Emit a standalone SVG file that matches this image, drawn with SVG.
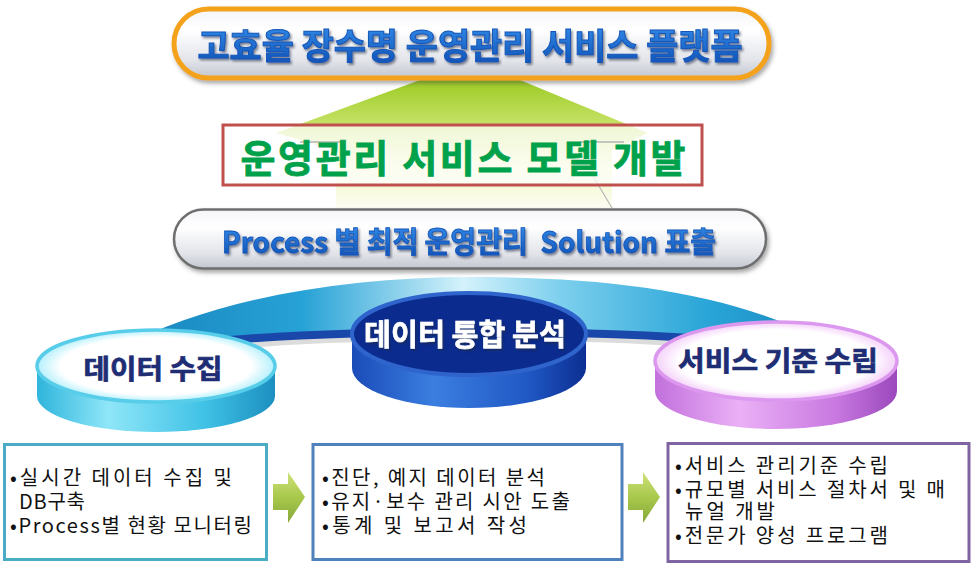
<svg xmlns="http://www.w3.org/2000/svg" width="973" height="568" viewBox="0 0 973 568">
<defs>
<linearGradient id="pillFill" x1="0" y1="0" x2="0" y2="1">
<stop offset="0" stop-color="#f4f5f8"/><stop offset="0.3" stop-color="#ffffff"/><stop offset="0.75" stop-color="#e2e4ea"/><stop offset="1" stop-color="#c3c6cf"/>
</linearGradient>
<linearGradient id="blueText" x1="0" y1="0" x2="0" y2="1">
<stop offset="0" stop-color="#3a94f0"/><stop offset="1" stop-color="#0b4cb2"/>
</linearGradient>
<linearGradient id="cone" x1="0" y1="80" x2="0" y2="208" gradientUnits="userSpaceOnUse">
<stop offset="0" stop-color="#9ccb24"/><stop offset="0.35" stop-color="#c6e267"/><stop offset="0.65" stop-color="#eef6c0"/><stop offset="1" stop-color="#fdfdf2"/>
</linearGradient>
<linearGradient id="band" x1="120" y1="0" x2="850" y2="0" gradientUnits="userSpaceOnUse">
<stop offset="0" stop-color="#1683bd"/><stop offset="0.25" stop-color="#27a2d6"/><stop offset="0.47" stop-color="#d4f2fb"/><stop offset="0.6" stop-color="#7fd0ee"/><stop offset="0.8" stop-color="#2aa6d8"/><stop offset="1" stop-color="#1580bb"/>
</linearGradient>
<linearGradient id="cyanSide" x1="0" y1="0" x2="1" y2="0">
<stop offset="0" stop-color="#2fb5dc"/><stop offset="0.3" stop-color="#8fe6f8"/><stop offset="0.7" stop-color="#40c2e6"/><stop offset="1" stop-color="#1c8fc0"/>
</linearGradient>
<radialGradient id="cyanFace" cx="0.5" cy="0.5" r="0.5">
<stop offset="0" stop-color="#ffffff"/><stop offset="0.8" stop-color="#ffffff"/><stop offset="1" stop-color="#b4f0fc"/>
</radialGradient>
<linearGradient id="navySide" x1="0" y1="0" x2="1" y2="0">
<stop offset="0" stop-color="#1a4cb8"/><stop offset="0.35" stop-color="#3b7ee0"/><stop offset="0.75" stop-color="#2058c4"/><stop offset="1" stop-color="#0c2f92"/>
</linearGradient>
<linearGradient id="violetSide" x1="0" y1="0" x2="1" y2="0">
<stop offset="0" stop-color="#c270dc"/><stop offset="0.35" stop-color="#eab0f6"/><stop offset="0.75" stop-color="#c878e0"/><stop offset="1" stop-color="#9a48bc"/>
</linearGradient>
<radialGradient id="violetFace" cx="0.5" cy="0.5" r="0.5">
<stop offset="0" stop-color="#ffffff"/><stop offset="0.8" stop-color="#ffffff"/><stop offset="1" stop-color="#f4d0fa"/>
</radialGradient>
<linearGradient id="arrowFill" x1="0" y1="0" x2="0" y2="1">
<stop offset="0" stop-color="#cfe27a"/><stop offset="0.5" stop-color="#a8c84c"/><stop offset="1" stop-color="#86a83a"/>
</linearGradient>
<filter id="shadow" x="-5%" y="-10%" width="110%" height="130%">
<feDropShadow dx="1.5" dy="2" stdDeviation="1.2" flood-color="#202840" flood-opacity="0.55"/>
</filter>
<filter id="soft" x="-5%" y="-20%" width="110%" height="150%">
<feDropShadow dx="2" dy="3" stdDeviation="2" flood-color="#404040" flood-opacity="0.45"/>
</filter>
</defs>
<style>
.title{font-family:"Noto Sans CJK KR","Noto Sans",sans-serif;font-weight:bold;text-anchor:middle}
.body{font-family:"Noto Sans CJK KR","Noto Sans",sans-serif;font-size:20px;fill:#111111}
.box{fill:#ffffff;stroke-width:3}
</style>
<rect width="973" height="568" fill="#ffffff"/>

<g id="cone">
<polygon points="420,80 520,80 648,133 612,150 612,208 336,208 336,150 276,133" fill="url(#cone)"/>
<line x1="593" y1="176" x2="612" y2="208" stroke="#b8b8b8" stroke-width="1.2"/>
</g>

<g id="platform" filter="url(#soft)">
<rect x="174" y="9" width="595" height="69" rx="34.5" fill="url(#pillFill)" stroke="#f4a21c" stroke-width="5"/>
<text class="title" x="470" y="59" font-size="35" fill="url(#blueText)" stroke="#1456b8" stroke-width="1" textLength="545" lengthAdjust="spacingAndGlyphs" filter="url(#shadow)">고효율 장수명 운영관리 서비스 플랫폼</text>
</g>

<g id="model">
<rect x="223" y="125" width="479" height="60" fill="#ffffff" fill-opacity="0.72" stroke="#c0504d" stroke-width="3"/>
<line x1="300" y1="142" x2="340" y2="142" stroke="#b0b0b0" stroke-width="2" opacity="0.7"/>
<line x1="580" y1="142" x2="624" y2="142" stroke="#b0b0b0" stroke-width="2" opacity="0.7"/>
<text class="title" x="463" y="172" font-size="38" fill="#00a14b" stroke="#00a14b" stroke-width="0.8" textLength="445" lengthAdjust="spacing">운영관리 서비스 모델 개발</text>
</g>

<g id="solution" filter="url(#soft)">
<rect x="174" y="209.5" width="592" height="59" rx="29.5" fill="url(#pillFill)" stroke="#6e6e6e" stroke-width="2.5"/>
<text class="title" x="469" y="253" font-size="29" fill="url(#blueText)" stroke="#1456b8" stroke-width="0.8" textLength="494" lengthAdjust="spacingAndGlyphs" filter="url(#shadow)" xml:space="preserve">Process 별 최적 운영관리  Solution 표출</text>
</g>

<g id="arc">
<path d="M 170,352 C 260,338 360,336 470,336 C 590,336 700,338 780,354" fill="none" stroke="#c4c4c4" stroke-width="10" opacity="0.6"/>
<path d="M 120,348 C 210,300 340,277 470,277 C 610,277 730,292 820,340 L 790,348 C 700,338 600,334 470,334 C 340,334 240,338 160,350 Z" fill="url(#band)"/>
<path d="M 160,348 C 240,336 340,332 470,332 C 600,332 700,336 790,346" fill="none" stroke="#1a48aa" stroke-width="8"/>
</g>

<g id="collect">
<path d="M 37,366 L 37,396 A 119,36 0 0 0 275,396 L 275,366 Z" fill="url(#cyanSide)"/>
<ellipse cx="156" cy="366" rx="119" ry="36" fill="url(#cyanFace)" stroke="#58cdea" stroke-width="3.5"/>
<text class="title" x="153" y="379" font-size="27" fill="#1e2d74" stroke="#1e2d74" stroke-width="0.7" textLength="139" lengthAdjust="spacingAndGlyphs">데이터 수집</text>
</g>

<g id="analysis">
<path d="M 352,334 L 352,368 A 117,40 0 0 0 586,368 L 586,334 Z" fill="url(#navySide)"/>
<ellipse cx="469" cy="334" rx="117" ry="41" fill="#0b2c8e" stroke="#2f64cc" stroke-width="4"/>
<text class="title" x="465" y="345" font-size="30" fill="#ffffff" stroke="#ffffff" stroke-width="0.6" textLength="202" lengthAdjust="spacingAndGlyphs" filter="url(#shadow)">데이터 통합 분석</text>
</g>

<g id="standard">
<path d="M 655,361 L 655,391 A 121,38 0 0 0 897,391 L 897,361 Z" fill="url(#violetSide)"/>
<ellipse cx="776" cy="361" rx="121" ry="39" fill="url(#violetFace)" stroke="#dc98ee" stroke-width="3.5"/>
<text class="title" x="778" y="371" font-size="27" fill="#1e2d74" stroke="#1e2d74" stroke-width="0.7" textLength="200" lengthAdjust="spacingAndGlyphs">서비스 기준 수립</text>
</g>

<g id="box-collect">
<rect class="box" x="4.5" y="444.5" width="262" height="115" stroke="#4bacc6"/>
<text class="body"><tspan x="10" y="485" textLength="222" lengthAdjust="spacing">•실시간 데이터 수집 및</tspan><tspan x="19" y="509" textLength="66" lengthAdjust="spacing">DB구축</tspan><tspan x="10" y="533" textLength="242" lengthAdjust="spacing">•Process별 현황 모니터링</tspan></text>
</g>

<g id="box-analysis">
<rect class="box" x="313" y="444.5" width="309" height="115" stroke="#4f81bd"/>
<text class="body"><tspan x="322" y="485" textLength="223" lengthAdjust="spacing">•진단, 예지 데이터 분석</tspan><tspan x="322" y="509" textLength="248" lengthAdjust="spacing">•유지·보수 관리 시안 도출</tspan><tspan x="322" y="533" textLength="205" lengthAdjust="spacing">•통계 및 보고서 작성</tspan></text>
</g>

<g id="box-standard">
<rect class="box" x="668" y="443.5" width="301" height="118" stroke="#8064a2"/>
<text class="body"><tspan x="675" y="473" textLength="213" lengthAdjust="spacing">•서비스 관리기준 수립</tspan><tspan x="675" y="497" textLength="270" lengthAdjust="spacing">•규모별 서비스 절차서 및 매</tspan><tspan x="685" y="519" textLength="90" lengthAdjust="spacing">뉴얼 개발</tspan><tspan x="675" y="543" textLength="213" lengthAdjust="spacing">•전문가 양성 프로그램</tspan></text>
</g>

<g id="connectors">
<polygon points="273,484 288,484 288,472 305,497 288,523 288,510 273,510" fill="url(#arrowFill)"/>
<polygon points="628,484 643,484 643,472 660,497 643,523 643,510 628,510" fill="url(#arrowFill)"/>
</g>
</svg>
